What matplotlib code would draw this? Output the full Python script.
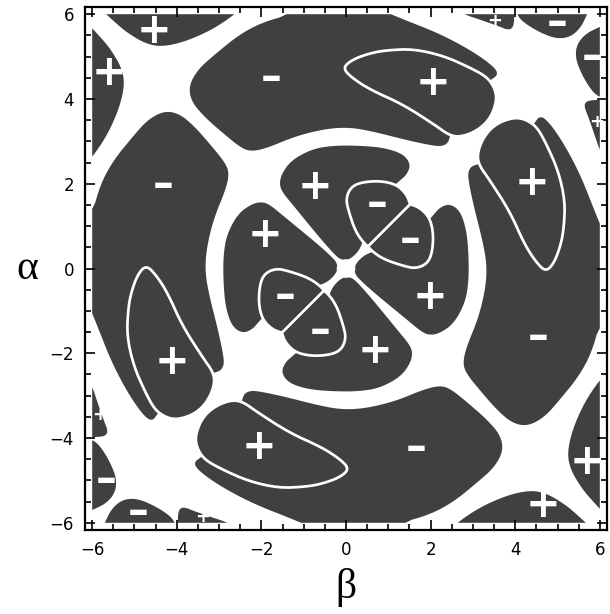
import numpy as np
import matplotlib
matplotlib.use("Agg")
import matplotlib.pyplot as plt
from matplotlib.path import Path

# Sign regions, given as (beta, alpha) outlines inside the
# wedge alpha >= |beta|.  The rest of the plane follows from the symmetries of the
# plot: alpha <-> beta and (alpha, beta) -> (-alpha, -beta).
inner_plus = [(-0.12, 0.20), (0.10, 0.21), (0.36, 0.48), (0.45, 0.90), (0.50, 1.50),
              (0.80, 1.80), (1.10, 1.92), (1.28, 2.08), (1.44, 2.22), (1.53, 2.45),
              (1.36, 2.70), (0.90, 2.85), (0.30, 2.90), (-0.30, 2.90), (-0.80, 2.82),
              (-1.30, 2.55), (-1.54, 2.20), (-1.57, 1.95), (-1.48, 1.77), (-1.29, 1.54),
              (-0.97, 1.15), (-0.65, 0.76), (-0.30, 0.36)]
inner_minus = [(0.45, 0.56), (0.22, 0.88), (0.06, 1.36), (0.00, 1.64), (0.10, 1.90),
               (0.33, 2.03), (0.80, 2.07), (1.20, 1.98), (1.44, 1.74), (1.52, 1.50),
               (1.65, 1.30), (0.70, 0.40)]
outer_minus = [(-1.10, 6.50), (-1.30, 6.00), (-2.00, 5.80), (-2.55, 5.50), (-3.10, 5.05),
               (-3.50, 4.70), (-3.72, 4.30), (-3.65, 3.93), (-3.33, 3.56), (-2.88, 3.17),
               (-2.50, 2.86), (-2.25, 2.76), (-1.87, 2.84), (-1.17, 3.13), (-0.46, 3.30),
               (0.09, 3.33), (0.65, 3.23), (1.43, 3.03), (1.99, 2.91), (2.25, 2.88),
               (2.40, 2.95), (2.45, 3.08), (2.55, 3.40), (2.90, 3.90), (3.30, 4.35),
               (3.45, 4.47), (3.58, 4.56), (3.55, 4.70), (3.25, 4.95), (2.77, 5.25),
               (2.14, 5.57), (1.35, 5.88), (0.70, 6.15), (0.40, 6.50)]
outer_plus = [(-0.08, 4.73), (0.15, 4.93), (0.57, 5.08), (0.96, 5.15), (1.59, 5.18),
              (2.30, 5.02), (2.93, 4.74), (3.33, 4.52), (3.50, 4.28), (3.56, 4.05),
              (3.52, 3.82), (3.42, 3.58), (3.24, 3.36), (2.95, 3.18), (2.64, 3.10),
              (2.40, 3.17), (2.14, 3.36), (1.35, 3.87), (0.57, 4.22), (0.14, 4.50)]
corner_plus = [(-6.10, 6.40), (-5.40, 5.75), (-5.15, 5.55), (-4.75, 5.31), (-4.36, 5.23),
               (-3.81, 5.35), (-3.17, 5.63), (-2.62, 6.00), (-2.20, 6.40)]
corner_sliver = [(2.45, 6.25), (2.72, 6.02), (3.20, 5.86), (3.60, 5.72), (3.82, 5.63),
                 (3.94, 5.67), (3.98, 5.85), (3.97, 6.30)]
corner_minus = [(4.00, 6.30), (4.03, 6.00), (4.20, 5.80), (4.60, 5.56), (4.98, 5.42),
                (5.30, 5.46), (5.55, 5.68), (5.70, 6.00), (5.85, 6.30)]

regions = [inner_plus, inner_minus, outer_minus, outer_plus, corner_plus,
           corner_sliver, corner_minus]
loops = [inner_minus, outer_plus]  # outlined by a thin white line

# sign labels
lab_beta = [-0.73, 0.73, 1.51, 1.99, 0.69, -0.61, -1.44, -1.91, -1.77, 2.06, 4.40, 4.54,
            1.65, -2.06, -4.11, -4.33, -4.54, -5.60, 3.52, 4.99, 5.82, 5.93, 5.70, 4.66,
            -4.92, -5.67, -3.40, -5.82]
lab_alpha = [1.92, 1.52, 0.67, -0.67, -1.95, -1.47, -0.65, 0.79, 4.49, 4.37, 2.02, -1.62,
             -4.23, -4.21, -2.21, 1.97, 5.60, 4.61, 5.84, 5.79, 4.99, 3.45, -4.56, -5.58,
             -5.74, -4.99, -5.86, -3.46]
lab_sign = "+--++--+-++--++-+++--+++--++"
lab_small = [18, 21, 26, 27]

line_w = 0.032   # half width of thin white lines
hole_r = 0.22    # white spot at the origin
dark = "#404040"


def chaikin(pts, n=2):
    p = np.asarray(pts, float)
    for _ in range(n):
        q = np.roll(p, -1, axis=0)
        p = np.stack([0.75 * p + 0.25 * q, 0.25 * p + 0.75 * q], axis=1).reshape(-1, 2)
    return p


def sdist(poly, X, Y):
    p = chaikin(poly)
    d = np.full(X.shape, np.inf)
    for (x0, y0), (x1, y1) in zip(p, np.roll(p, -1, axis=0)):
        dx, dy = x1 - x0, y1 - y0
        t = np.clip(((X - x0) * dx + (Y - y0) * dy) / (dx * dx + dy * dy), 0, 1)
        d = np.minimum(d, np.hypot(X - x0 - t * dx, Y - y0 - t * dy))
    inside = Path(p).contains_points(np.c_[X.ravel(), Y.ravel()]).reshape(X.shape)
    return np.where(inside, -d, d)


g = np.linspace(-6, 6, 541)
B, A = np.meshgrid(g, g)
# fold every point into the wedge alpha >= |beta|
swap = np.abs(B) > np.abs(A)
wb = np.where(swap, A, B)
wa = np.where(swap, B, A)
wb = np.where(wa < 0, -wb, wb)
wa = np.abs(wa)

sd = [sdist(p, wb, wa) for p in regions]
F = -np.min(sd, axis=0)
for p in loops:
    F = np.minimum(F, np.abs(sd[regions.index(p)]) - line_w)
F = np.minimum(F, (wa - np.abs(wb)) / np.sqrt(2) - line_w)
F = np.minimum(F, np.hypot(wb, wa) - hole_r)

fig = plt.figure(figsize=(6.1, 6.14), dpi=100)
ax = fig.add_axes([85 / 610, 84 / 614, 522 / 610, 523 / 614])
ax.contourf(B, A, F, levels=[0, F.max() + 1], colors=[dark], antialiased=True)

for b, a, s, i in zip(lab_beta, lab_alpha, lab_sign, range(len(lab_sign))):
    ax.text(b, a, "+" if s == "+" else "\u2013", color="white", fontweight="bold",
            fontsize=13 if i in lab_small else 30, ha="center", va="center",
            family="DejaVu Sans")

ax.set_xlim(-6.17, 6.17)
ax.set_ylim(-6.17, 6.17)
ax.set_xticks(np.arange(-6, 7, 2))
ax.set_yticks(np.arange(-6, 7, 2))
ax.set_xticks(np.arange(-6, 6.01, 0.5), minor=True)
ax.set_yticks(np.arange(-6, 6.01, 0.5), minor=True)
ax.tick_params(which="both", direction="in", top=True, right=True, width=1.2,
               labelsize=12, pad=8)
ax.tick_params(which="major", length=7)
ax.tick_params(which="minor", length=4)
for s in ax.spines.values():
    s.set_linewidth(1.6)

ax.set_xlabel("\u03b2", fontsize=30, family="Liberation Serif", va="center")
ax.set_ylabel("\u03b1", fontsize=30, family="Liberation Serif", rotation=0,
              va="center", ha="center")
ax.xaxis.set_label_coords(0.5, -0.11)
ax.yaxis.set_label_coords(-0.11, 0.5)

fig.savefig("out.png", dpi=100)
